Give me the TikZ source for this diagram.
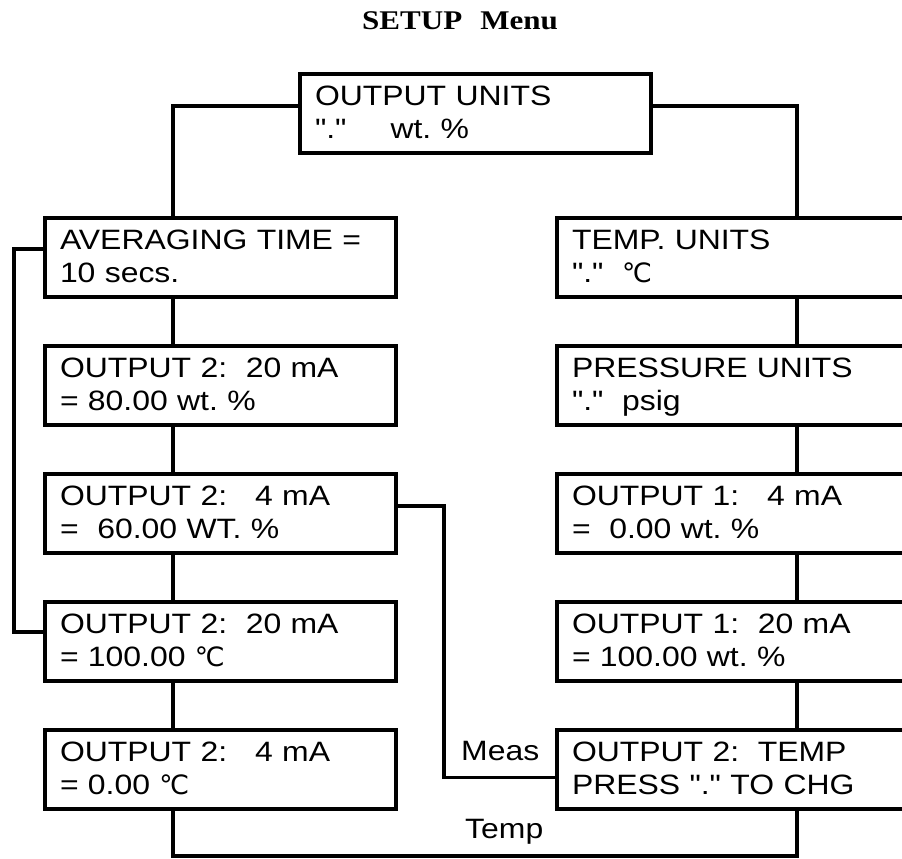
\documentclass[tikz,border=0pt]{standalone}
\usepackage{fontspec}
\setmainfont[FakeStretch=1.14,Ligatures=TeXOff]{Liberation Sans}
\newfontfamily\titlefont[FakeStretch=1.15]{Liberation Serif}
\newfontfamily\symfont[Scale=0.95]{DejaVu Sans}
\newcommand{\degC}{{\symfont ℃}}
\newcommand{\topstrut}{\rule{0pt}{22pt}}
\newcommand{\botstrut}{\rule[-6pt]{0pt}{6pt}}
\frenchspacing
\begin{document}
\begin{tikzpicture}[x=1pt,y=-1pt,
  box/.style={draw,line width=4pt,minimum width=351pt,minimum height=79pt,
    text width=321pt,align=left,inner xsep=15pt,inner ysep=0pt,
    font=\fontsize{28}{33}\selectfont},
  link/.style={line width=3.5pt},
  lab/.style={inner sep=0pt,font=\fontsize{28}{33}\selectfont}]
\useasboundingbox (0,0) rectangle (902,859);

\node[anchor=base west,inner sep=0pt,font=\titlefont\bfseries\fontsize{27}{30}\selectfont] (title) at (362,30) {SETUP\hspace{18pt}Menu};

\node[box] (top) at (475.5,113.5) {\topstrut OUTPUT UNITS\\"."\hspace{44pt}wt. \%\botstrut};

\node[box] (avg) at (220.5,257.5) {\topstrut AVERAGING TIME =\\10 secs.\botstrut};
\node[box] (l2) at (220.5,385.5) {\topstrut OUTPUT 2:~~20 mA\\= 80.00 wt. \%\botstrut};
\node[box] (l3) at (220.5,513.5) {\topstrut OUTPUT 2:~~~4 mA\\=~~60.00 WT. \%\botstrut};
\node[box] (l4) at (220.5,641.5) {\topstrut OUTPUT 2:~~20 mA\\= 100.00 \degC\botstrut};
\node[box] (l5) at (220.5,769.5) {\topstrut OUTPUT 2:~~~4 mA\\= 0.00 \degC\botstrut};

\node[box] (r1) at (732.5,257.5) {\topstrut TEMP. UNITS\\"."~~\degC\botstrut};
\node[box] (r2) at (732.5,385.5) {\topstrut PRESSURE UNITS\\"."~~psig\botstrut};
\node[box] (r3) at (732.5,513.5) {\topstrut OUTPUT 1:~~~4 mA\\=~~0.00 wt. \%\botstrut};
\node[box] (r4) at (732.5,641.5) {\topstrut OUTPUT 1:~~20 mA\\= 100.00 wt. \%\botstrut};
\node[box] (r5) at (732.5,769.5) {\topstrut OUTPUT 2:~~TEMP\\PRESS "." TO CHG\botstrut};

\node[lab,anchor=base west] (meas) at (461,760) {Meas};
\node[lab,anchor=base west] (temp) at (465,838) {Temp};

\coordinate (Lx) at (173,0);
\coordinate (Rx) at (797,0);

\draw[link] ([yshift=7.5pt]top.west) -| (Lx |- avg.north);
\draw[link] ([yshift=7.5pt]top.east) -| (Rx |- r1.north);

\draw[link] (Lx |- avg.south) -- (Lx |- l2.north);
\draw[link] (Lx |- l2.south) -- (Lx |- l3.north);
\draw[link] (Lx |- l3.south) -- (Lx |- l4.north);
\draw[link] (Lx |- l4.south) -- (Lx |- l5.north);

\draw[link] (Rx |- r1.south) -- (Rx |- r2.north);
\draw[link] (Rx |- r2.south) -- (Rx |- r3.north);
\draw[link] (Rx |- r3.south) -- (Rx |- r4.north);
\draw[link] (Rx |- r4.south) -- (Rx |- r5.north);

\draw[link] ([yshift=8.5pt]avg.west) -- ++(-29pt,0) |- ([yshift=9.5pt]l4.west);
\draw[link] ([yshift=7.5pt]l3.east) -- ++(46pt,0) |- ([yshift=-8pt]r5.west);
\draw[link] (Lx |- l5.south) -- ++(0,-45pt) -| (Rx |- r5.south);
\end{tikzpicture}
\end{document}
